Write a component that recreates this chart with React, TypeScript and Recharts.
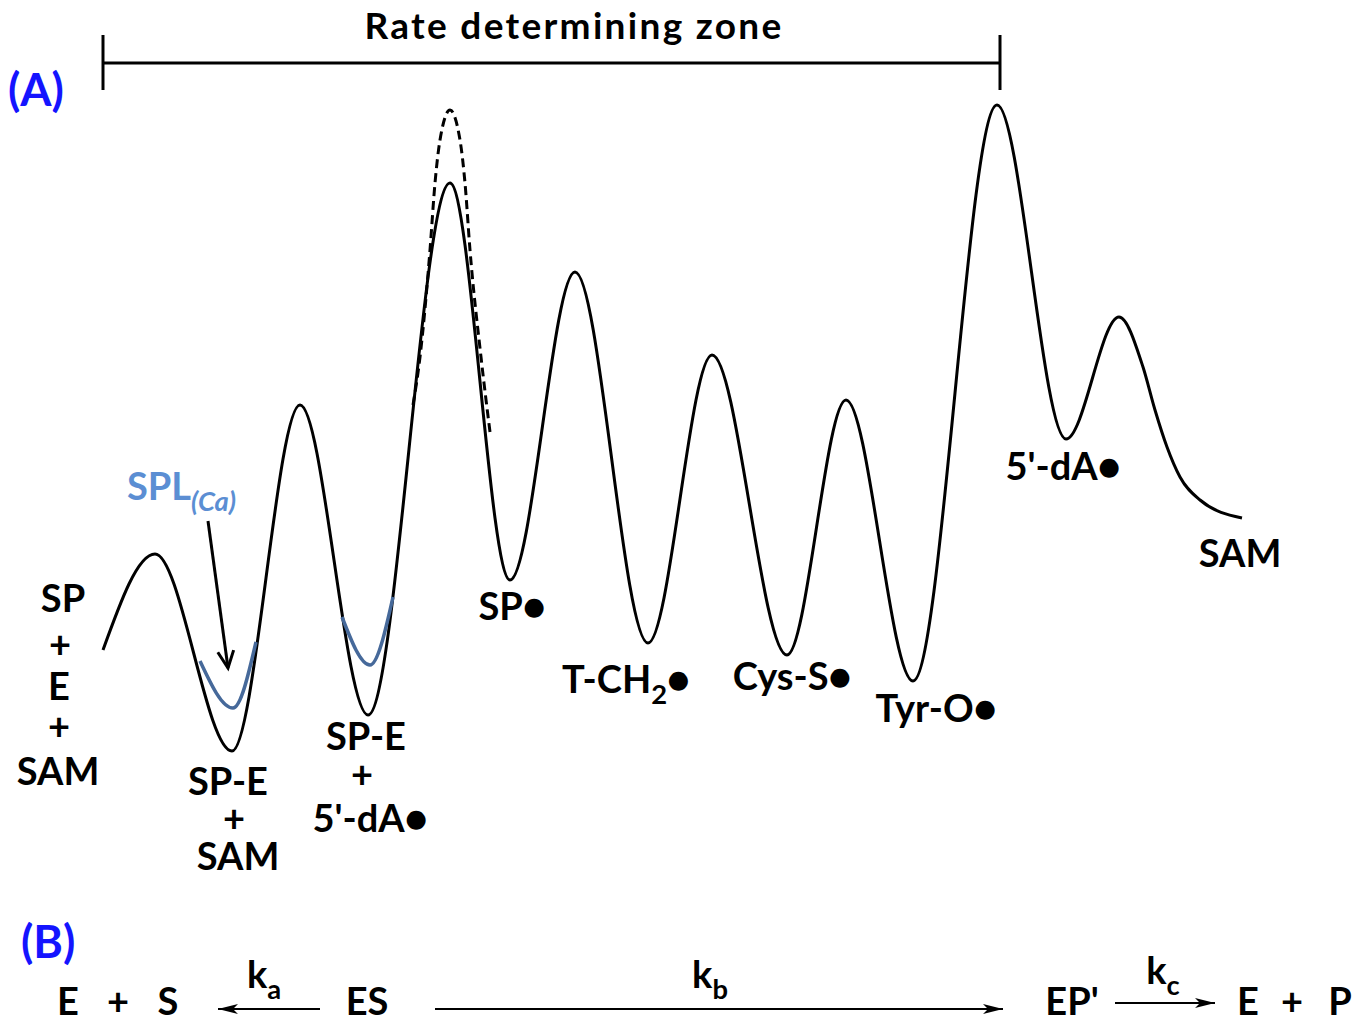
import React from "react";
import { ComposedChart, Line, Scatter, XAxis, YAxis } from "recharts";

// reaction coordinate (x) vs relative free energy (e), arbitrary units
const profileX = [103, 155, 232, 300, 368, 450, 510, 575, 648, 712, 787, 846, 913, 997, 1066, 1119, 1143, 1155, 1167, 1180, 1200, 1242];
const profileE = [350, 446, 249, 595, 285, 817, 420, 728, 357, 645, 345, 600, 319, 895, 561, 683, 633, 590, 553, 523, 500, 482];

// uncatalysed (dashed) barrier over the H-abstraction step
const dashedX = [413, 420, 430, 435, 440, 450, 460, 465, 470, 481, 490];
const dashedE = [595, 643, 750, 817, 860, 890, 860, 817, 750, 643, 568];

// SPL(Ca) wells
const splWell1X = [200, 233, 256];
const splWell1E = [339, 292, 358];
const splWell2X = [342, 370, 393];
const splWell2E = [383, 335, 403];
const splArrowX = [208, 228];
const splArrowE = [479, 332];

// rate determining zone bracket
const zoneX = [103, 1000];
const zoneE = 937;
const zoneTickE = [965, 910];

// panel B arrows
const kaArrowX = [320, 218];
const kbArrowX = [435, 1003];
const kcArrowX = [1115, 1215];
const schemeArrowE = [-9, -9, -3];

// labels: x, baseline energy, text (_{..} = subscript)
const stateLabels = [
  { x: 63, e: 388, text: "SP" },
  { x: 60, e: 342, text: "+" },
  { x: 59, e: 300, text: "E" },
  { x: 59, e: 260, text: "+" },
  { x: 58, e: 215, text: "SAM" },
  { x: 228, e: 205, text: "SP-E" },
  { x: 234, e: 168, text: "+" },
  { x: 238, e: 130, text: "SAM" },
  { x: 366, e: 250, text: "SP-E" },
  { x: 362, e: 212, text: "+" },
  { x: 370, e: 168, text: "5'-dA●" },
  { x: 512, e: 380, text: "SP●" },
  { x: 626, e: 307, text: "T-CH_{2}●" },
  { x: 792, e: 310, text: "Cys-S●" },
  { x: 936, e: 278, text: "Tyr-O●" },
  { x: 1063, e: 520, text: "5'-dA●" },
  { x: 1240, e: 433, text: "SAM" },
];
const schemeLabels = [
  { x: 68, e: -15, text: "E" },
  { x: 118, e: -15, text: "+" },
  { x: 168, e: -15, text: "S" },
  { x: 264, e: 12, text: "k_{a}" },
  { x: 367, e: -15, text: "ES" },
  { x: 710, e: 12, text: "k_{b}" },
  { x: 1072, e: -15, text: "EP'" },
  { x: 1163, e: 16, text: "k_{c}" },
  { x: 1248, e: -15, text: "E" },
  { x: 1292, e: -15, text: "+" },
  { x: 1340, e: -15, text: "P" },
];
const titleLabels = [{ x: 574, e: 961, text: "Rate determining zone" }];
const panelLabels = [
  { x: 8, e: 894, text: "(A)" },
  { x: 21, e: 42, text: "(B)" },
];
const splLabels = [{ x: 127, e: 500, text: "SPL_{(Ca)}" }];

const FONT = "Lato, 'Open Sans', sans-serif";
const BLUE_CURVE = "#46699a";

const zip = (xs: number[], es: number[]) => xs.map((x, i) => ({ x, e: es[i] }));

function parts(text: string) {
  const out: { t: string; sub: boolean }[] = [];
  const re = /_\{([^}]*)\}/g;
  let last = 0;
  let m;
  while ((m = re.exec(text))) {
    if (m.index > last) out.push({ t: text.slice(last, m.index), sub: false });
    out.push({ t: m[1], sub: true });
    last = m.index + m[0].length;
  }
  if (last < text.length) out.push({ t: text.slice(last), sub: false });
  return out;
}

function makeLabel(size: number, color: string, anchor: "start" | "middle", subItalic = false, spacing = 0) {
  return (props: any) => {
    const { cx, cy, payload } = props;
    let shifted = false;
    return (
      <text
        x={cx}
        y={cy}
        textAnchor={anchor}
        fontFamily={FONT}
        fontWeight={700}
        fontSize={size}
        letterSpacing={spacing}
        fill={color}
      >
        {parts(payload.text).map((p, i) => {
          let dy = 0;
          if (p.sub && !shifted) {
            dy = size * 0.3;
            shifted = true;
          } else if (!p.sub && shifted) {
            dy = -size * 0.3;
            shifted = false;
          }
          return (
            <tspan
              key={i}
              dy={dy}
              fontSize={p.sub ? size * 0.72 : size}
              fontStyle={p.sub && subItalic ? "italic" : "normal"}
            >
              {p.t}
            </tspan>
          );
        })}
      </text>
    );
  };
}

function arrowHead(xs: number[], es: number[], kind: "open" | "filled", color = "#000") {
  return (props: any) => {
    const { cx, cy, index } = props;
    if (index !== xs.length - 1) return <g key={index} />;
    const n = xs.length - 1;
    const ang = Math.atan2(-(es[n] - es[n - 1]), xs[n] - xs[n - 1]);
    const L = kind === "open" ? 17 : 20;
    const w = kind === "open" ? 8 : 5;
    const bx = cx - L * Math.cos(ang);
    const by = cy - L * Math.sin(ang);
    const px = -Math.sin(ang) * w;
    const py = Math.cos(ang) * w;
    if (kind === "open") {
      return (
        <polyline
          key={index}
          points={`${bx + px},${by + py} ${cx},${cy} ${bx - px},${by - py}`}
          fill="none"
          stroke={color}
          strokeWidth={3}
        />
      );
    }
    return (
      <polygon
        key={index}
        points={`${bx + px},${by + py} ${cx},${cy} ${bx - px},${by - py} ${bx + L * 0.25 * Math.cos(ang)},${by + L * 0.25 * Math.sin(ang)}`}
        fill={color}
      />
    );
  };
}

export default function App() {
  const schemeArrows = [kaArrowX, kbArrowX, kcArrowX];
  return (
    <div style={{ position: "absolute", left: 0, top: 0, background: "#fff" }}>
      <ComposedChart width={1356} height={1021} margin={{ top: 0, right: 0, bottom: 0, left: 0 }}>
        <XAxis dataKey="x" type="number" domain={[0, 1356]} allowDataOverflow hide />
        <YAxis dataKey="e" type="number" domain={[-21, 1000]} allowDataOverflow hide />

        {/* bracket */}
        <Line data={zip(zoneX, [zoneE, zoneE])} dataKey="e" type="linear" stroke="#000" strokeWidth={3} dot={false} isAnimationActive={false} />
        {zoneX.map((x) => (
          <Line key={x} data={zip([x, x], zoneTickE)} dataKey="e" type="linear" stroke="#000" strokeWidth={3} dot={false} isAnimationActive={false} />
        ))}

        <Line data={zip(profileX, profileE)} dataKey="e" type="monotone" stroke="#000" strokeWidth={3} dot={false} isAnimationActive={false} />
        <Line data={zip(dashedX, dashedE)} dataKey="e" type="monotone" stroke="#000" strokeWidth={3} strokeDasharray="9 5" dot={false} isAnimationActive={false} />
        <Line data={zip(splWell1X, splWell1E)} dataKey="e" type="monotone" stroke={BLUE_CURVE} strokeWidth={3.5} dot={false} isAnimationActive={false} />
        <Line data={zip(splWell2X, splWell2E)} dataKey="e" type="monotone" stroke={BLUE_CURVE} strokeWidth={3.5} dot={false} isAnimationActive={false} />
        <Line data={zip(splArrowX, splArrowE)} dataKey="e" type="linear" stroke="#000" strokeWidth={3} dot={arrowHead(splArrowX, splArrowE, "open")} isAnimationActive={false} />

        {schemeArrows.map((xs, i) => {
          const es = [schemeArrowE[i], schemeArrowE[i]];
          return (
            <Line key={i} data={zip(xs, es)} dataKey="e" type="linear" stroke="#000" strokeWidth={2} dot={arrowHead(xs, es, "filled")} isAnimationActive={false} />
          );
        })}

        <Scatter data={titleLabels} dataKey="e" shape={makeLabel(37, "#000", "middle", false, 2.3)} isAnimationActive={false} />
        <Scatter data={panelLabels} dataKey="e" shape={makeLabel(45, "#1414ff", "start")} isAnimationActive={false} />
        <Scatter data={stateLabels} dataKey="e" shape={makeLabel(38, "#000", "middle")} isAnimationActive={false} />
        <Scatter data={schemeLabels} dataKey="e" shape={makeLabel(38, "#000", "middle")} isAnimationActive={false} />
        <Scatter data={splLabels} dataKey="e" shape={makeLabel(38, "#5b8ed3", "start", true)} isAnimationActive={false} />
      </ComposedChart>
    </div>
  );
}
